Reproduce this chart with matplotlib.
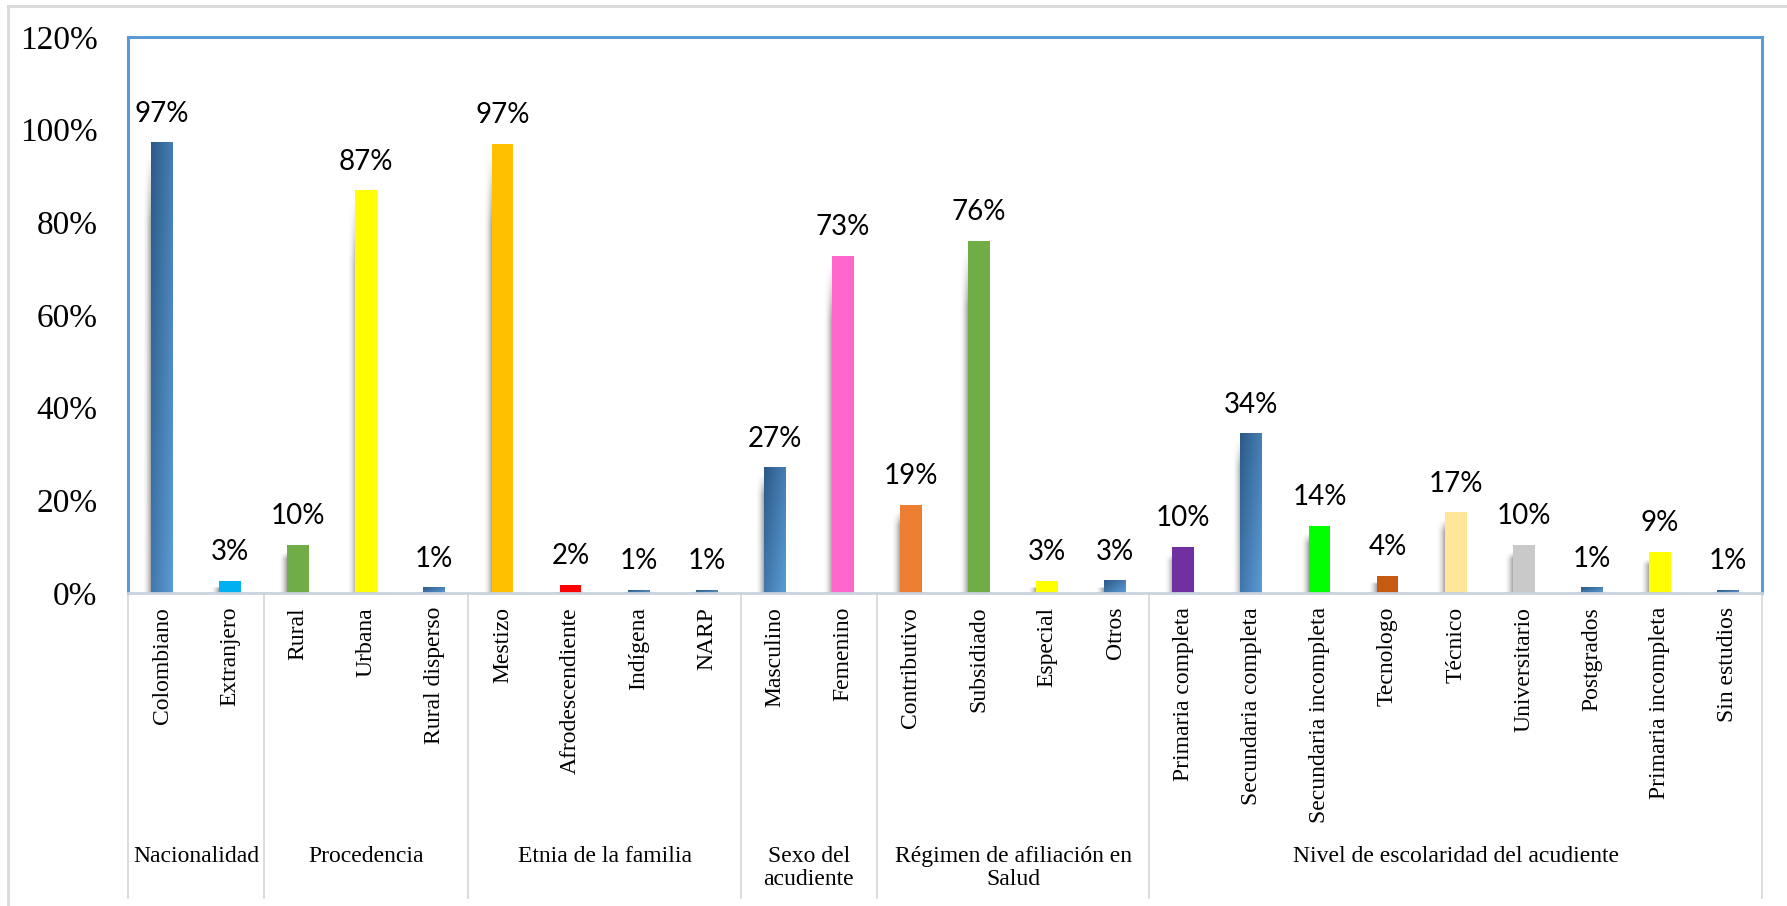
import numpy as np
import matplotlib
matplotlib.use("Agg")
import matplotlib.pyplot as plt
from matplotlib.colors import LinearSegmentedColormap
from matplotlib.lines import Line2D

# categories, grouped by variable
groups = ["Nacionalidad", "Procedencia", "Etnia de la familia", "Sexo del\nacudiente",
          "Régimen de afiliación en\nSalud", "Nivel de escolaridad del acudiente"]
group_sizes = [2, 3, 4, 2, 4, 9]
categories = ["Colombiano", "Extranjero",
              "Rural", "Urbana", "Rural disperso",
              "Mestizo", "Afrodescendiente", "Indígena", "NARP",
              "Masculino", "Femenino",
              "Contributivo", "Subsidiado", "Especial", "Otros",
              "Primaria completa", "Secundaria completa", "Secundaria incompleta", "Tecnologo",
              "Técnico", "Universitario", "Postgrados", "Primaria incompleta", "Sin estudios"]
values = [0.972, 0.026,
          0.103, 0.869, 0.011,
          0.970, 0.017, 0.006, 0.006,
          0.271, 0.727,
          0.190, 0.759, 0.026, 0.026,
          0.099, 0.344, 0.144, 0.037, 0.174, 0.103, 0.011, 0.088, 0.006]
# None -> blue gradient fill
colors = [None, "#00b0f0",
          "#70ad47", "#ffff00", None,
          "#ffc000", "#ff0000", None, None,
          None, "#ff66cc",
          "#ed7d31", "#70ad47", "#ffff00", None,
          "#7030a0", None, "#00ff00", "#c55a11", "#ffe699", "#c9c9c9", None, "#ffff00", None]

serif = "Liberation Serif"
W, H = 1787, 906
fig = plt.figure(figsize=(W / 100, H / 100), dpi=100)
ax = fig.add_axes([128 / W, 1 - 593 / H, (1762 - 128) / W, (593 - 37) / H])

# outer frame of the picture
fig.add_artist(Line2D([8 / W, 8 / W], [0, 1 - 6 / H], color="#d9d9d9", lw=2))
fig.add_artist(Line2D([8 / W, 1], [1 - 6 / H, 1 - 6 / H], color="#d9d9d9", lw=2))

blue_cmap = LinearSegmentedColormap.from_list("bluegrad", ["#2c5a88", "#5b9bd5"])
gx = np.linspace(0, 1, 30)
gy = np.linspace(0, 1, 60)
grad = 0.55 * gx[None, :] + 0.45 * gy[:, None]  # dark top-left -> light bottom-right

# shadow: grey, fading out to the left and towards the top
sx = np.linspace(0, 1, 40) ** 2
sy = np.clip(np.linspace(0, 1, 80) * 6, 0, 1)
shadow = np.zeros((80, 40, 4))
shadow[..., :3] = 0.35
shadow[..., 3] = 0.55 * sx[None, :] * sy[:, None]

width = 0.32
sw = 0.13
x = np.arange(len(categories))
for i, (v, c) in enumerate(zip(values, colors)):
    left = x[i] - width / 2
    top_sh = max(v - 0.015, 0.002)
    ax.imshow(shadow, extent=(left - sw, left, 0, top_sh), aspect="auto",
              origin="upper", zorder=1, interpolation="bilinear")
    if c is None:
        ax.imshow(grad, cmap=blue_cmap, extent=(left, left + width, 0, v),
                  aspect="auto", origin="upper", zorder=2)
    else:
        ax.bar(x[i], v, width=width, color=c, linewidth=0, zorder=2)
    ax.annotate(f"{v:.0%}", (x[i], v), xytext=(0, 15), textcoords="offset points",
                ha="center", va="baseline", fontsize=20, family="Lato", color="black")

ax.set_xlim(-0.5, len(categories) - 0.5)
ax.set_ylim(0, 1.2)
ticks = np.arange(0, 1.21, 0.2)
ax.set_yticks(ticks)
ax.set_yticklabels([f"{int(round(t * 100))}%" for t in ticks])
ax.tick_params(axis="y", length=0, pad=22, labelsize=24, labelfontfamily=serif)
ax.set_xticks([])

for s in ["left", "top", "right"]:
    ax.spines[s].set_color("#5b9bd5")
    ax.spines[s].set_linewidth(2.2)
ax.spines["bottom"].set_color("#c9d3df")
ax.spines["bottom"].set_linewidth(2)

# category labels
for i, name in enumerate(categories):
    ax.text(x[i], -0.025, name, transform=ax.get_xaxis_transform(), rotation=90,
            ha="center", va="top", family=serif, fontsize=17)

# group separators and labels
tr = ax.get_xaxis_transform()
edges = np.concatenate([[0], np.cumsum(group_sizes)]) - 0.5
for e in edges:
    ax.plot([e, e], [0, -0.549], transform=tr, color="#d9d9d9", lw=1.3, clip_on=False)
for g, a, b in zip(groups, edges[:-1], edges[1:]):
    ax.text((a + b) / 2, -0.455, g, transform=tr, ha="center", va="top",
            multialignment="center", family=serif, fontsize=17, linespacing=1.1)

fig.savefig("out.png", dpi=100)
